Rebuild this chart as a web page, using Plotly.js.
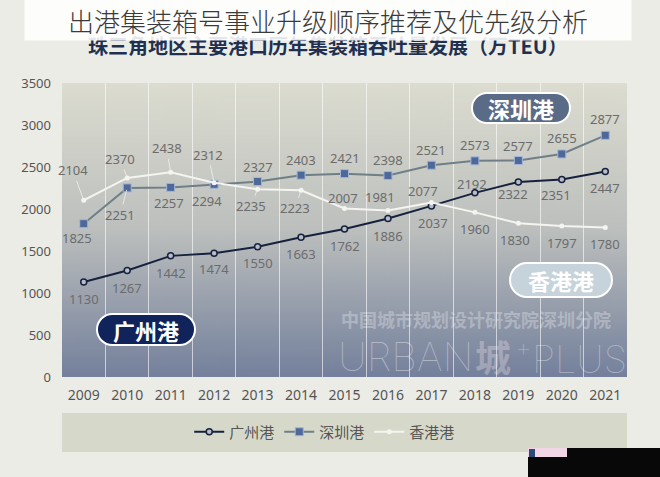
<!DOCTYPE html>
<html>
<head>
<meta charset="utf-8">
<script src="https://cdn.plot.ly/plotly-3.0.1.min.js"></script>
<style>
html,body{margin:0;padding:0;background:#ecece6;}
#wrap{position:relative;width:660px;height:477px;overflow:hidden;}
#chart{width:660px;height:477px;}
#blk{position:absolute;left:528px;top:448px;width:132px;height:29px;background:#080808;z-index:5;}
#logo{position:absolute;left:528px;top:448px;width:39px;height:9px;background:#f3d6e6;z-index:6;}
#logo i{position:absolute;left:1px;top:1px;width:6px;height:8px;background:#2a4a7a;}
</style>
</head>
<body>
<div id="wrap">
<div id="chart"></div>
<div id="blk"></div>
<div id="logo"><i></i></div>
</div>
<script>
const years = ['2009','2010','2011','2012','2013','2014','2015','2016','2017','2018','2019','2020','2021'];
const guangzhou = [1130,1267,1442,1474,1550,1663,1762,1886,2037,2192,2322,2351,2447];
const shenzhen  = [1825,2251,2257,2294,2327,2403,2421,2398,2521,2573,2577,2655,2877];
const hongkong  = [2104,2370,2438,2312,2235,2223,2007,1981,2077,1960,1830,1797,1780];
const seriesNames = ['广州港','深圳港','香港港'];
const mainTitle = '出港集装箱号事业升级顺序推荐及优先级分析';
const subTitle = '珠三角地区主要港口历年集装箱吞吐量发展（万TEU）';
const watermark1 = '中国城市规划设计研究院深圳分院';

// label offsets (style): [dx, dy(down), leader]
const gzOff = [[0,17],[0,17],[0,17],[0,16],[0,16],[0,17],[0,17],[0,17],[2,17],[-3,-9],[-5,12],[-6,15],[0,17]];
const szOff = [[-7,14],[-7,27,1],[-2,16],[-7,17],[0,-15],[0,-15],[0,-16],[0,-16],[0,-15],[0,-16],[0,-15],[0,-16],[0,-16]];
const hkOff = [[-11,-30,1],[-7,-19,1],[-4,-24,1],[-6,-28,1],[-7,17,1],[-6,18,1],[-2,-10],[-8,-14],[-8,-12],[0,17],[-3,17],[0,17],[0,17]];

// geometry of plot area in px (for decorative shapes only)
const L = 62, R = 627, T = 83, B = 377;
const px = x => (x - L) / (R - L);
const py = y => (B - y) / (B - T);

function pill(x0, y0, x1, y1) {
  const h = (y1 - y0) / 2, k = 0.5523 * h;
  const pts = [
    ['M', [x0 + h, y0]], ['L', [x1 - h, y0]],
    ['C', [x1 - h + k, y0], [x1, y0 + h - k], [x1, y0 + h]],
    ['C', [x1, y0 + h + k], [x1 - h + k, y1], [x1 - h, y1]],
    ['L', [x0 + h, y1]],
    ['C', [x0 + h - k, y1], [x0, y0 + h + k], [x0, y0 + h]],
    ['C', [x0, y0 + h - k], [x0 + h - k, y0], [x0 + h, y0]]
  ];
  return pts.map(p => p[0] + ' ' + p.slice(1).map(c => px(c[0]).toFixed(5) + ',' + py(c[1]).toFixed(5)).join(' ')).join(' ') + ' Z';
}

// gradient background for plot area
const cv = document.createElement('canvas');
cv.width = 20; cv.height = 300;
const ctx = cv.getContext('2d');
const g = ctx.createLinearGradient(0, 0, 0, 300);
g.addColorStop(0, '#dcdcd0');
g.addColorStop(0.5, '#bcbfbd');
g.addColorStop(1, '#74809c');
ctx.fillStyle = g; ctx.fillRect(0, 0, 20, 300);
const gradURL = cv.toDataURL();

const traces = [
  {x: years, y: guangzhou, name: seriesNames[0], type: 'scatter', mode: 'lines+markers',
   line: {color: '#16213d', width: 2}, marker: {symbol: 'circle', size: 6, color: '#b8bcc8', line: {color: '#16213d', width: 1.5}}},
  {x: years, y: shenzhen, name: seriesNames[1], type: 'scatter', mode: 'lines+markers',
   line: {color: '#6f7f88', width: 2}, marker: {symbol: 'square', size: 8, color: '#4e689a', line: {color: '#a3b6d8', width: 1}}},
  {x: years, y: hongkong, name: seriesNames[2], type: 'scatter', mode: 'lines+markers',
   line: {color: '#f4f4f0', width: 2}, marker: {symbol: 'circle', size: 5, color: '#f4f4f0'}}
];

const labelFont = {family: 'Noto Sans, Noto Sans CJK SC', size: 13, color: '#6c6c6c'};
const annotations = [];
function addLabels(vals, offs) {
  vals.forEach((v, i) => {
    const o = offs[i];
    if (o[2]) {
      annotations.push({x: i, y: v, xref: 'x', yref: 'y', text: String(v), font: labelFont,
        showarrow: true, arrowhead: 0, arrowwidth: 1, arrowcolor: 'rgba(240,240,234,0.85)',
        ax: o[0], ay: o[1], standoff: 2});
    } else {
      annotations.push({x: i, y: v, xref: 'x', yref: 'y', text: String(v), font: labelFont,
        showarrow: false, xanchor: 'center', yanchor: 'middle', xshift: o[0], yshift: -o[1]});
    }
  });
}
addLabels(guangzhou, gzOff);
addLabels(shenzhen, szOff);
addLabels(hongkong, hkOff);

function paperText(x, y, text, font, extra) {
  annotations.push(Object.assign({xref: 'paper', yref: 'paper', x: px(x), y: py(y), text: text, showarrow: false,
    xanchor: 'center', yanchor: 'middle', font: font}, extra || {}));
}

// titles
paperText(328, 45, subTitle, {family: 'Noto Sans CJK SC', size: 20, color: '#1f3050', weight: 700});
paperText(328, 20, mainTitle, {family: 'Noto Sans CJK SC', size: 26, color: '#3a3a3a', weight: 300},
  {width: 606, height: 40, bgcolor: 'rgba(255,255,255,0.88)', borderpad: 0});

// pill labels
paperText(521, 108, seriesNames[1], {family: 'Noto Sans CJK SC', size: 22, color: '#ffffff', weight: 700});
paperText(146, 330, seriesNames[0], {family: 'Noto Sans CJK SC', size: 22, color: '#ffffff', weight: 700});
paperText(561, 280, seriesNames[2], {family: 'Noto Sans CJK SC', size: 22, color: '#ffffff', weight: 700});

// watermark
paperText(476, 319, watermark1, {family: 'Noto Sans CJK SC', size: 18, color: 'rgba(255,255,255,0.3)', weight: 700});
paperText(336, 356, 'URBAN', {family: 'Inter', size: 40, color: 'rgba(255,255,255,0.38)', weight: 100}, {xanchor: 'left'});
paperText(493, 356, '城', {family: 'Noto Sans CJK SC', size: 36, color: 'rgba(240,225,232,0.35)', weight: 700});
paperText(513, 356, '<sup>+</sup>PLUS', {family: 'Inter', size: 38, color: 'rgba(255,255,255,0.38)', weight: 100}, {xanchor: 'left'});

const shapes = [
  {type: 'rect', xref: 'paper', yref: 'paper', x0: 0, x1: 1, y0: py(452), y1: py(413), fillcolor: '#d6d9ca', line: {width: 0}, layer: 'below'},
  {type: 'path', xref: 'paper', yref: 'paper', path: pill(472, 93, 570, 123), fillcolor: '#5a6b88', line: {color: '#ffffff', width: 2}, layer: 'above'},
  {type: 'path', xref: 'paper', yref: 'paper', path: pill(97, 314, 195, 345), fillcolor: '#10235a', line: {color: '#ffffff', width: 2}, layer: 'above'},
  {type: 'path', xref: 'paper', yref: 'paper', path: pill(510, 263, 612, 297), fillcolor: '#c6d3da', line: {color: '#ffffff', width: 2}, layer: 'above'}
];

const layout = {
  width: 660, height: 477,
  margin: {l: L, r: 660 - R, t: T, b: 477 - B},
  paper_bgcolor: '#ecece6',
  plot_bgcolor: 'rgba(0,0,0,0)',
  font: {family: 'Noto Sans, Noto Sans CJK SC', color: '#555'},
  showlegend: true,
  legend: {orientation: 'h', x: 0.465, xanchor: 'center', y: py(432), yanchor: 'middle',
    bgcolor: 'rgba(0,0,0,0)', font: {size: 15, color: '#555', family: 'Noto Sans CJK SC'}},
  xaxis: {type: 'category', tickson: 'boundaries', showgrid: true, gridcolor: 'rgba(255,255,255,0.6)', gridwidth: 1,
    ticks: '', showline: false, zeroline: false, tickfont: {size: 14, color: '#555'}, ticklabelstandoff: 8,
    range: [-0.5, 12.5], fixedrange: true},
  yaxis: {range: [0, 3500], dtick: 500, showgrid: false, zeroline: false, showline: false, ticks: '',
    tickfont: {size: 13, color: '#555'}, ticklabelstandoff: 10, fixedrange: true},
  images: [{source: gradURL, xref: 'paper', yref: 'paper', x: 0, y: 1, sizex: 1, sizey: 1,
    sizing: 'stretch', xanchor: 'left', yanchor: 'top', layer: 'below'}],
  shapes: shapes,
  annotations: annotations
};

Plotly.newPlot('chart', traces, layout, {displayModeBar: false, staticPlot: true});
</script>
</body>
</html>
